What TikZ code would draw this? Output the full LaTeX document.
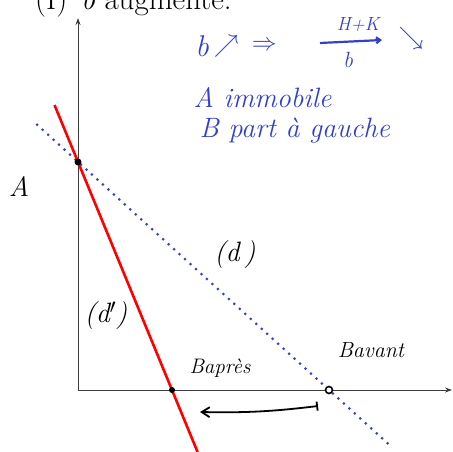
\documentclass[tikz,border=0pt]{standalone}
\usepackage{tikz}
\usetikzlibrary{arrows.meta,positioning,calc}
\definecolor{ink}{HTML}{3C3C3C}
\definecolor{pen}{HTML}{3440C8}
\definecolor{redline}{HTML}{FF0000}
\tikzset{pt/.style={circle,fill=black,inner sep=0pt,minimum size=7pt},
  ptopen/.style={circle,draw=black,line width=1.6pt,fill=white,inner sep=0pt,minimum size=7pt},
  axis/.style={draw=ink,line width=0.9pt,-{Stealth[length=7pt,width=5pt]}},
  hand/.style={font=\fontsize{28}{32}\selectfont\itshape},
  bluehand/.style={hand,text=pen},
  dline/.style={redline,line width=2.6pt},
  dotline/.style={pen,line width=3pt,line cap=round,dash pattern=on 0pt off 7.4pt}}

\begin{document}
\begin{tikzpicture}[x=1pt,y=-1pt]
\useasboundingbox (0,0) rectangle (453,452);
% title, cut by the page top
\node[anchor=base west,inner sep=0pt,font=\fontsize{31}{36}\selectfont] (num) at (35,10) {(I)};
\node[anchor=base west,inner sep=0pt,font=\fontsize{31}{36}\selectfont] (title) at (81,10) {\textit{b} augmente.};
% axes
\coordinate (O) at (78,390);
\coordinate (xend) at (452,390);
\coordinate (yend) at (78,18);
\draw[axis] (O) -- (xend);
\draw[axis] (O) -- (yend);
% points
\coordinate (A) at (78,162);
\coordinate (Bap) at (172,390);
\coordinate (Bav) at (329,390);
% lines (d) and (d')
\draw[dotline] ($(A)!-0.163!(Bav)$) -- ($(Bav)!-0.245!(A)$);
\draw[dline] ($(A)!-0.25!(Bap)$) -- ($(Bap)!-0.272!(A)$);
\node[pt] (Adot) at (A) {};
\node[pt,minimum size=6pt] (Bapdot) at (Bap) {};
\node[ptopen] (Bavdot) at (Bav) {};
% handwritten labels
\node[hand] (Alab) at (19,187) {A};
\node[hand] (dlab) at (235,255) {(d\,)};
\node[hand] (dplab) at (106,316) {(d$'$)};
\node[hand,font=\fontsize{21}{24}\selectfont\itshape] (Baplab) at (220,368) {Bapr\`es};
\node[hand,font=\fontsize{22}{24}\selectfont\itshape] (Bavlab) at (371,350) {Bavant};
\coordinate (arrR) at (318,406);
\coordinate (arrL) at (200,412);
\draw[line width=1.8pt,{Bar[width=9pt]}-{Straight Barb[length=8pt,width=10pt]}] (arrR) to[bend left=4] (arrL);
% blue notes
\node[bluehand,font=\fontsize{30}{32}\selectfont\itshape] (bnote) at (202,46) {b};
\node[bluehand,right=-2pt of bnote] (up) {$\nearrow$};
\node[bluehand,right=6pt of up] (impl) {$\Rightarrow$};
\node[bluehand,font=\fontsize{19}{22}\selectfont\itshape] (num2) at (358,24) {H+K};
\draw[pen,line width=2.2pt,-{Straight Barb[length=4pt,width=6pt]}] (320,43) -- (382,40);
\node[bluehand,font=\fontsize{22}{24}\selectfont\itshape] (den) at (348,60) {b};
\node[bluehand] (down) at (411,38) {$\searrow$};
\node[bluehand,anchor=west] (immob) at (190,98) {A immobile};
\node[bluehand,anchor=west] (gauche) at (196,131) {B part \`a gauche};
\end{tikzpicture}
\end{document}
